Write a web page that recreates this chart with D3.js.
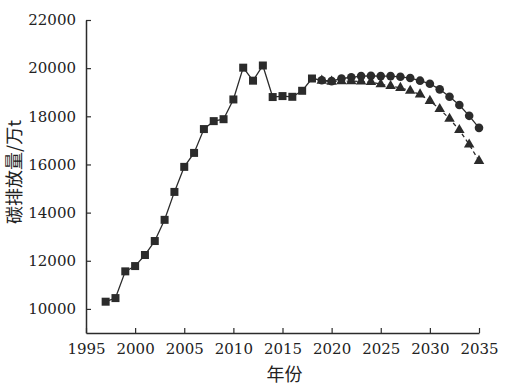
<!DOCTYPE html>
<html>
<head>
<meta charset="utf-8">
<script src="https://cdn.jsdelivr.net/npm/d3@7"></script>
<style>
  body { margin: 0; background: #fff; }
</style>
</head>
<body>
<svg></svg>
<script>
const width = 507;
const height = 392;

// historical data (squares)
const histYears = [1997, 1998, 1999, 2000, 2001, 2002, 2003, 2004, 2005, 2006, 2007,
	2008, 2009, 2010, 2011, 2012, 2013, 2014, 2015, 2016, 2017, 2018];
const histValues = [10300, 10450, 11560, 11780, 12240, 12820, 13700, 14860, 15900, 16480, 17470,
	17800, 17880, 18700, 20020, 19480, 20110, 18800, 18840, 18810, 19060, 19570];

// forecast years 2018-2035
const projYears = [2018, 2019, 2020, 2021, 2022, 2023, 2024, 2025, 2026, 2027,
	2028, 2029, 2030, 2031, 2032, 2033, 2034, 2035];
// circles
const circleValues = [19570, 19500, 19460, 19570, 19620, 19670, 19680, 19670, 19670, 19640,
	19590, 19480, 19350, 19120, 18810, 18470, 18020, 17520];
// triangles
const triangleValues = [19570, 19480, 19440, 19460, 19460, 19450, 19430, 19330, 19260, 19180,
	19060, 18910, 18640, 18300, 17900, 17430, 16830, 16150];

const xTicks = [1995, 2000, 2005, 2010, 2015, 2020, 2025, 2030, 2035];
const yTicks = [10000, 12000, 14000, 16000, 18000, 20000, 22000];

const margin = { left: 86, right: 28, top: 20, bottom: 59 };
const cjk = '"Noto Sans CJK SC", sans-serif';

const svg = d3.select('svg')
	.attr('width', width)
	.attr('height', height);

const x = d3.scaleLinear()
	.domain([1995, 2035])
	.range([margin.left, width - margin.right]);
const y = d3.scaleLinear()
	.domain([9000, 22000])
	.range([height - margin.bottom, margin.top]);

const ink = '#2b2b2b';

// axes (ticks pointing inward)
const xAxis = svg.append('g')
	.attr('transform', `translate(0, ${height - margin.bottom})`)
	.call(d3.axisBottom(x).tickValues(xTicks).tickFormat(d3.format('d')).tickSizeInner(-5).tickSizeOuter(0).tickPadding(10));
const yAxis = svg.append('g')
	.attr('transform', `translate(${margin.left}, 0)`)
	.call(d3.axisLeft(y).tickValues(yTicks).tickFormat(d3.format('d')).tickSizeInner(-5).tickSizeOuter(0).tickPadding(10));

[xAxis, yAxis].forEach(g => {
	g.attr('font-family', null).attr('font-size', null);
	g.select('.domain').attr('stroke', ink).attr('stroke-width', 1.5);
	g.selectAll('.tick line').attr('stroke', ink).attr('stroke-width', 1.2);
	g.selectAll('.tick text')
		.style('font-family', 'DejaVu Serif')
		.style('font-size', '15px')
		.attr('fill', '#222');
});

svg.append('text')
	.attr('x', x(2015.2))
	.attr('y', 381)
	.attr('text-anchor', 'middle')
	.style('font-family', cjk)
	.style('font-size', '18px')
	.attr('fill', '#222')
	.text('年份');

svg.append('text')
	.attr('transform', `translate(21, 172) rotate(-90)`)
	.attr('text-anchor', 'middle')
	.style('font-family', cjk)
	.style('font-size', '18px')
	.attr('fill', '#222')
	.text('碳排放量/万t');

const line = d3.line()
	.x(d => x(d[0]))
	.y(d => y(d[1]));

const hist = histYears.map((d, i) => [d, histValues[i]]);
const circ = projYears.map((d, i) => [d, circleValues[i]]);
const tri = projYears.map((d, i) => [d, triangleValues[i]]);

// triangle series (drawn first, below circles)
svg.append('path')
	.datum(tri)
	.attr('d', line)
	.attr('fill', 'none')
	.attr('stroke', ink)
	.attr('stroke-width', 1.3)
	.attr('stroke-dasharray', '4,3');
svg.append('g')
	.selectAll('path')
	.data(tri.slice(1))
	.join('path')
	.attr('d', d3.symbol(d3.symbolTriangle, 48))
	.attr('transform', d => `translate(${x(d[0])}, ${y(d[1])})`)
	.attr('fill', ink);

svg.append('path')
	.datum(circ)
	.attr('d', line)
	.attr('fill', 'none')
	.attr('stroke', ink)
	.attr('stroke-width', 1.3);
svg.append('g')
	.selectAll('circle')
	.data(circ.slice(1))
	.join('circle')
	.attr('cx', d => x(d[0]))
	.attr('cy', d => y(d[1]))
	.attr('r', 4.3)
	.attr('fill', ink);

svg.append('path')
	.datum(hist)
	.attr('d', line)
	.attr('fill', 'none')
	.attr('stroke', ink)
	.attr('stroke-width', 1.3);
svg.append('g')
	.selectAll('rect')
	.data(hist)
	.join('rect')
	.attr('x', d => x(d[0]) - 4)
	.attr('y', d => y(d[1]) - 4)
	.attr('width', 8)
	.attr('height', 8)
	.attr('fill', ink);
</script>
</body>
</html>
